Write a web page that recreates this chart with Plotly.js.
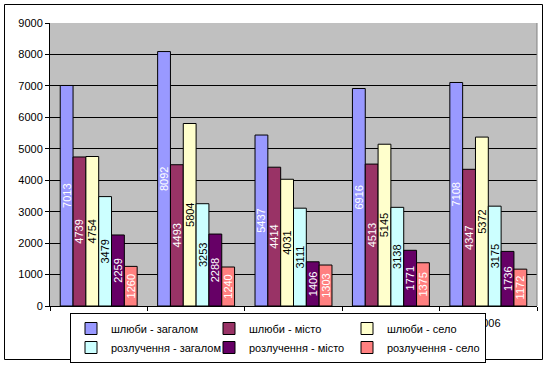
<!DOCTYPE html>
<html>
<head>
<meta charset="utf-8">
<script src="https://cdn.plot.ly/plotly-3.0.1.min.js"></script>
<style>
html,body{margin:0;padding:0;background:#fff;}
#chart{width:548px;height:365px;}
</style>
</head>
<body>
<div id="chart"></div>
<script>
var years = ["2002", "2003", "2004", "2005", "2006"];
var seriesNames = ["шлюби - загалом", "шлюби - місто", "шлюби - село",
                   "розлучення - загалом", "розлучення - місто", "розлучення - село"];
var marriagesTotal = [7013, 8092, 5437, 6916, 7108];
var marriagesCity  = [4739, 4493, 4414, 4513, 4347];
var marriagesVillage = [4754, 5804, 4031, 5145, 5372];
var divorcesTotal = [3479, 3253, 3111, 3138, 3175];
var divorcesCity  = [2259, 2288, 1406, 1771, 1736];
var divorcesVillage = [1260, 1240, 1303, 1375, 1172];
var yTicks = [0, 1000, 2000, 3000, 4000, 5000, 6000, 7000, 8000, 9000];

var seriesValues = [marriagesTotal, marriagesCity, marriagesVillage, divorcesTotal, divorcesCity, divorcesVillage];
var colors = ["#9999FF", "#993366", "#FFFFCC", "#CCFFFF", "#660066", "#FF8080"];
var textColors = ["#FFFFFF", "#FFFFFF", "#000000", "#000000", "#FFFFFF", "#FFFFFF"];

var FONT = "Liberation Sans, Arial, sans-serif";

var traces = seriesValues.map(function (vals, i) {
  return {
    type: "bar",
    name: seriesNames[i],
    x: years,
    y: vals,
    text: vals.map(String),
    textposition: "inside",
    insidetextanchor: "middle",
    textangle: -90,
    constraintext: "none",
    cliponaxis: false,
    textfont: {family: FONT, size: 11, color: textColors[i]},
    marker: {color: colors[i], line: {color: "#000000", width: 1}},
    hoverinfo: "none"
  };
});

var L = 50, R = 11, T = 23, B = 59;
var W = 548, H = 365;
var pw = W - L - R, ph = H - T - B;
function px(x) { return (x - L) / pw; }
function py(y) { return (H - B - y) / ph; }

var layout = {
  width: W, height: H,
  margin: {l: L, r: R, t: T, b: B, pad: 0, autoexpand: false},
  paper_bgcolor: "#FFFFFF",
  plot_bgcolor: "#C0C0C0",
  barmode: "group",
  bargap: 0.21,
  bargroupgap: 0,
  showlegend: true,
  font: {family: FONT, size: 11, color: "#000000"},
  xaxis: {
    type: "category",
    showline: true, linecolor: "#000000", linewidth: 1,
    ticks: "outside", tickson: "boundaries", ticklen: 4, tickcolor: "#000000",
    ticklabelstandoff: 7,
    tickfont: {family: FONT, size: 11, color: "#000000"},
    showgrid: false, zeroline: false, mirror: false,
    automargin: false
  },
  yaxis: {
    range: [0, 9000],
    tickvals: yTicks,
    ticktext: yTicks.map(String),
    showline: true, linecolor: "#000000", linewidth: 1,
    ticks: "outside", ticklen: 4, tickcolor: "#000000",
    showgrid: true, gridcolor: "#000000", gridwidth: 1,
    zeroline: false,
    automargin: false,
    tickfont: {family: FONT, size: 11, color: "#000000"}
  },
  legend: {
    orientation: "h",
    x: px(70), xanchor: "left",
    y: py(313), yanchor: "top",
    bgcolor: "#FFFFFF",
    bordercolor: "#000000", borderwidth: 1,
    entrywidth: 93,
    traceorder: "normal",
    font: {family: FONT, size: 11, color: "#000000"}
  },
  shapes: [
    {type: "rect", xref: "paper", yref: "paper",
     x0: px(4.5), x1: px(542.5), y0: py(4.5), y1: py(359.5),
     line: {color: "#000000", width: 1}, fillcolor: "rgba(0,0,0,0)", layer: "above"},
    {type: "line", xref: "paper", yref: "paper",
     x0: 1, x1: 1, y0: 0, y1: 1,
     line: {color: "#808080", width: 1}, layer: "above"}
  ]
};

Plotly.newPlot("chart", traces, layout, {staticPlot: true, displayModeBar: false});
</script>
</body>
</html>
